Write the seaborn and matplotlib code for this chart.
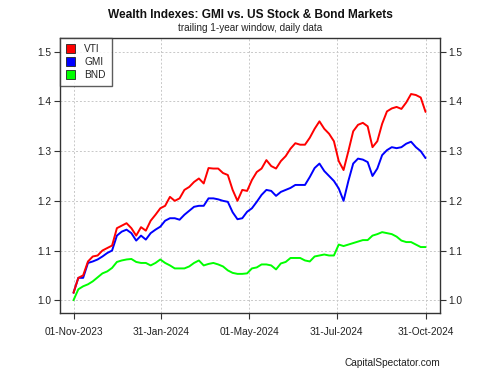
import pandas as pd
import seaborn as sns
from matplotlib import pyplot as plt
from matplotlib.patches import Patch

# 5-day sampling of the daily wealth indexes
start = '2023-11-01'
end = '2024-10-31'

vti = [1.015, 1.045, 1.05, 1.078, 1.088, 1.09, 1.1, 1.105, 1.11, 1.145,
       1.15, 1.155, 1.145, 1.13, 1.147, 1.14, 1.16, 1.172, 1.185, 1.19,
       1.208, 1.2, 1.205, 1.222, 1.228, 1.238, 1.245, 1.235, 1.266, 1.265,
       1.265, 1.256, 1.252, 1.222, 1.2, 1.222, 1.22, 1.242, 1.258, 1.265,
       1.282, 1.27, 1.265, 1.28, 1.29, 1.305, 1.316, 1.313, 1.313, 1.327,
       1.345, 1.36, 1.345, 1.335, 1.32, 1.28, 1.262, 1.3, 1.34, 1.353,
       1.357, 1.35, 1.308, 1.32, 1.355, 1.38, 1.386, 1.389, 1.385, 1.398,
       1.415, 1.413, 1.408, 1.379]

gmi = [1.015, 1.045, 1.045, 1.075, 1.078, 1.082, 1.088, 1.095, 1.1, 1.13,
       1.138, 1.142, 1.135, 1.12, 1.13, 1.122, 1.135, 1.142, 1.148, 1.16,
       1.165, 1.165, 1.162, 1.172, 1.18, 1.188, 1.19, 1.19, 1.205, 1.205,
       1.203, 1.2, 1.198, 1.177, 1.163, 1.165, 1.178, 1.185, 1.198, 1.212,
       1.222, 1.22, 1.21, 1.218, 1.222, 1.226, 1.232, 1.232, 1.232, 1.248,
       1.266, 1.275, 1.26, 1.25, 1.24, 1.225, 1.2, 1.24, 1.275, 1.285,
       1.283, 1.278, 1.25, 1.265, 1.292, 1.302, 1.308, 1.306, 1.308, 1.315,
       1.319, 1.308, 1.3, 1.286]

bnd = [1.0, 1.022, 1.028, 1.032, 1.038, 1.046, 1.054, 1.058, 1.065, 1.077,
       1.08, 1.082, 1.083, 1.077, 1.075, 1.075, 1.07, 1.075, 1.082, 1.075,
       1.07, 1.064, 1.064, 1.064, 1.068, 1.075, 1.08, 1.07, 1.073, 1.075,
       1.072, 1.068, 1.06, 1.055, 1.053, 1.053, 1.054, 1.064, 1.066, 1.072,
       1.072, 1.07, 1.062, 1.074, 1.077, 1.085, 1.085, 1.085, 1.08, 1.078,
       1.088, 1.09, 1.092, 1.09, 1.09, 1.112, 1.109, 1.112, 1.115, 1.118,
       1.121, 1.121, 1.13, 1.133, 1.137, 1.135, 1.133, 1.128, 1.12, 1.117,
       1.117, 1.112, 1.107, 1.107]

tick_dates = ['2023-11-01', '2024-01-31', '2024-05-01', '2024-07-31', '2024-10-31']
tick_labels = ['01-Nov-2023', '31-Jan-2024', '01-May-2024', '31-Jul-2024', '31-Oct-2024']
series = ['VTI', 'GMI', 'BND']
colors = ['#ff0000', '#0000ff', '#00ff00']

dates = pd.date_range(start, end, freq='5D')
wide = pd.DataFrame({'VTI': vti, 'GMI': gmi, 'BND': bnd}, index=dates)
wide.index.name = 'date'
df = wide.reset_index().melt(id_vars='date', var_name='ticker', value_name='value')

sns.set_style('white')
plt.rcParams['font.family'] = ['Liberation Sans', 'DejaVu Sans']

fig = plt.figure(figsize=(5, 3.75), dpi=100)
ax = fig.add_axes([0.12, 0.165, 0.76, 0.734])

# draw BND first so the stock lines sit on top
sns.lineplot(data=df, x='date', y='value', hue='ticker',
             hue_order=['BND', 'GMI', 'VTI'],
             palette={'VTI': colors[0], 'GMI': colors[1], 'BND': colors[2]},
             linewidth=1.4, legend=False, ax=ax)

ax.set_xlim(pd.Timestamp('2023-10-18'), pd.Timestamp('2024-11-15'))
ax.set_ylim(0.974, 1.528)
ax.set_xlabel('')
ax.set_ylabel('')

yticks = [1.0, 1.1, 1.2, 1.3, 1.4, 1.5]
ax.set_yticks(yticks)
ax.set_yticklabels([f'{v:.1f}' for v in yticks])
ax.set_xticks(pd.to_datetime(tick_dates))
ax.set_xticklabels(tick_labels)
ax.grid(True, color='#c8c8c8', linestyle=(0, (2, 2)), linewidth=0.7)
ax.set_axisbelow(True)

ax.tick_params(axis='both', which='both', direction='out', length=4, width=0.8,
               color='#333333', labelsize=7.3, labelcolor='#222222', pad=2,
               bottom=True, left=True, right=True, labelright=True)
ax.tick_params(axis='x', pad=6)
for side in ax.spines.values():
    side.set_color('#333333')
    side.set_linewidth(1.0)

handles = [Patch(facecolor=c, edgecolor='#222222', linewidth=0.6) for c in colors]
leg = ax.legend(handles, series, loc='upper left', borderaxespad=0,
                fontsize=7.3, frameon=True, fancybox=False, handlelength=0.9,
                handleheight=0.9, handletextpad=0.9, borderpad=0.6,
                labelspacing=0.3)
leg.get_frame().set_edgecolor('#333333')
leg.get_frame().set_linewidth(1.0)

fig.text(0.5, 0.96, 'Wealth Indexes: GMI vs. US Stock & Bond Markets',
         ha='center', va='center', fontsize=8.6, fontweight='bold', color='#111111')
fig.text(0.5, 0.926, 'trailing 1-year window, daily data',
         ha='center', va='center', fontsize=7.2, color='#222222')
fig.text(0.88, 0.018, 'CapitalSpectator.com', ha='right', va='bottom',
         fontsize=7.3, color='#222222')

fig.savefig('out.png', dpi=100)
